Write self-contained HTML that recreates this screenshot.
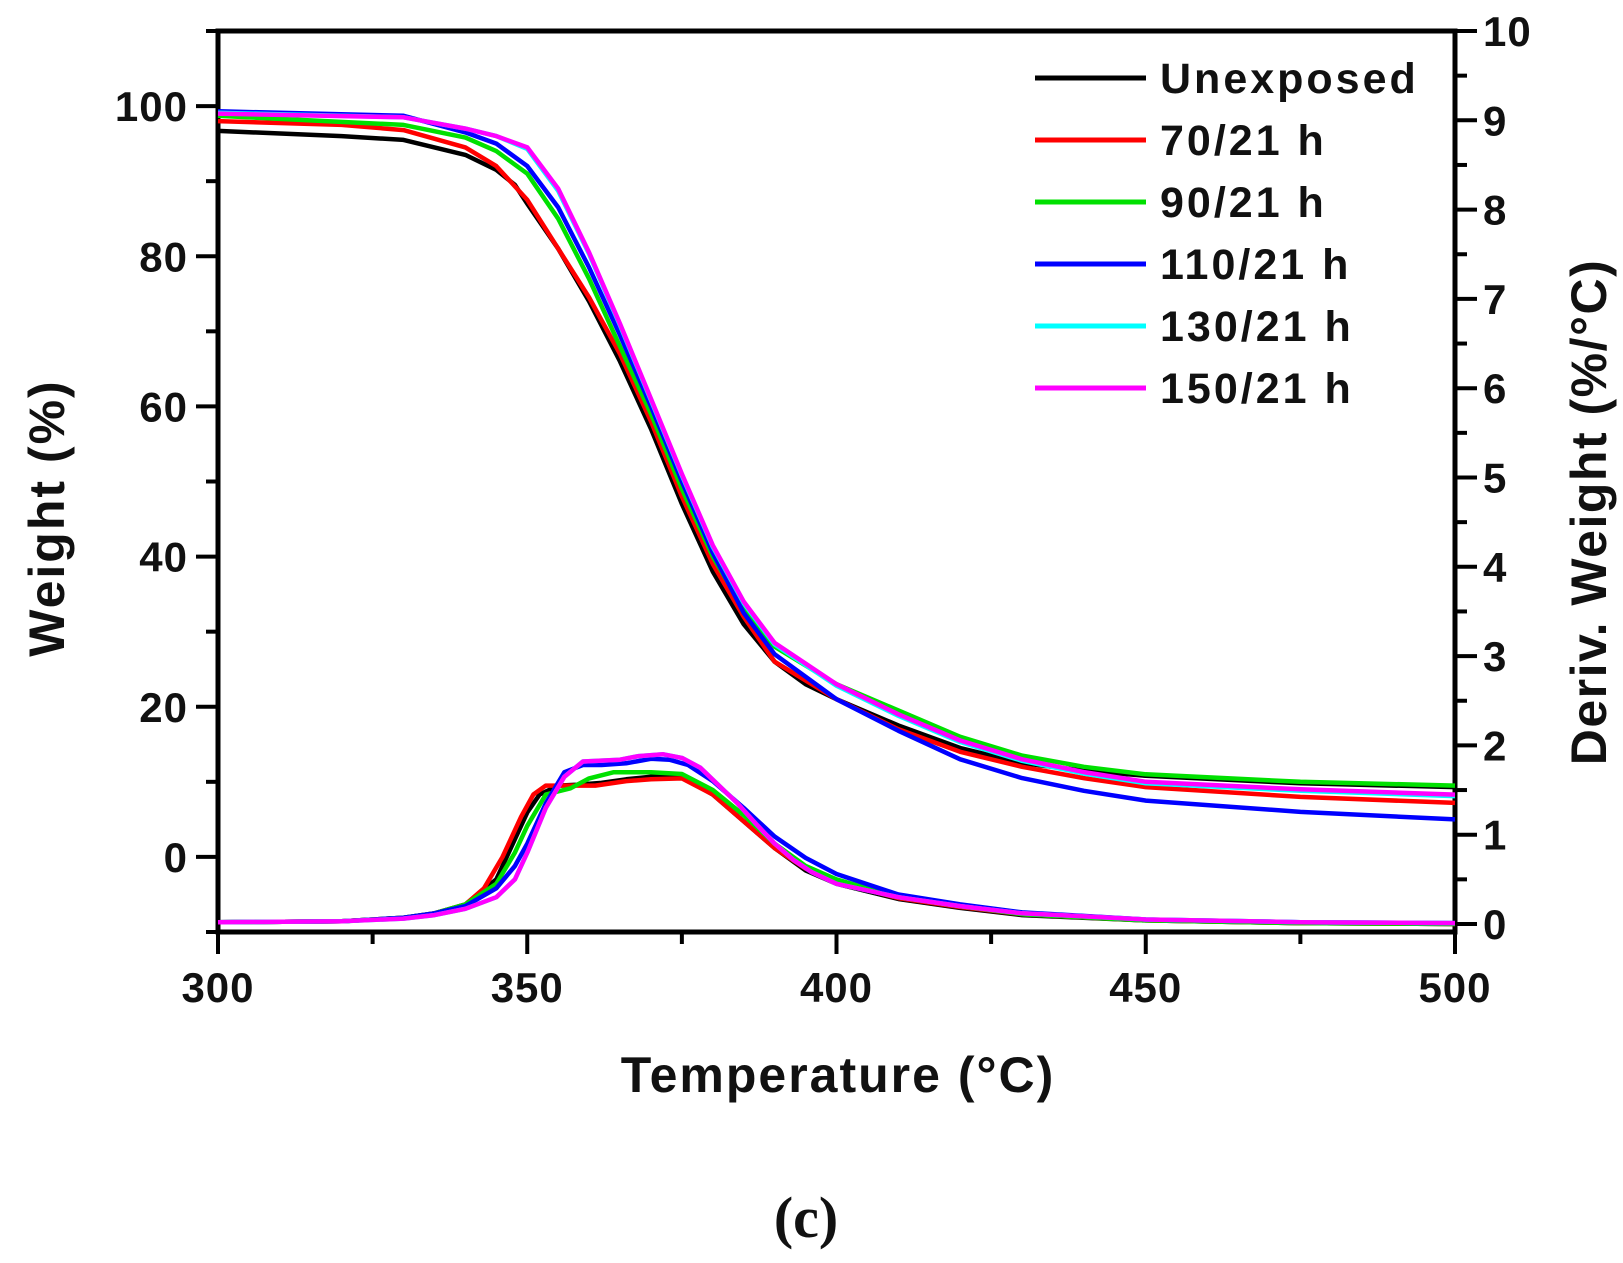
<!DOCTYPE html>
<html><head><meta charset="utf-8"><style>
body{margin:0;background:#fff;}
svg text{font-family:"Liberation Sans",Arial,sans-serif;font-weight:bold;fill:#111;}
</style></head><body>
<svg id="chart" width="1623" height="1258" viewBox="0 0 1623 1258" xmlns="http://www.w3.org/2000/svg">
<g id="axes"></g>
<g id="series"></g>
<g id="legend"></g>
<text x="64" y="518" font-size="50" letter-spacing="2" text-anchor="middle" transform="rotate(-90 64 518)">Weight (%)</text>
<text x="1606" y="512" font-size="50" letter-spacing="1.5" text-anchor="middle" transform="rotate(-90 1606 512)">Deriv. Weight (%/°C)</text>
<text x="838" y="1092" font-size="50" letter-spacing="2" text-anchor="middle">Temperature (°C)</text>
<text x="806" y="1237" font-size="58" text-anchor="middle" style="font-family:'Liberation Serif',serif">(c)</text>
</svg>
<script>
const names=["Unexposed","70/21 h","90/21 h","110/21 h","130/21 h","150/21 h"];
const colors=["#000000","#ff0000","#00e000","#0000ff","#00ffff","#ff00ff"];
const wT=[[300,320,330,340,345,348,350,355,360,365,370,375,380,385,390,395,400,410,420,430,440,450,475,500],
[300,320,330,340,345,350,355,360,365,370,375,380,385,390,400,410,420,430,440,450,475,500],
[300,330,340,345,350,355,360,365,370,375,380,385,390,400,410,420,430,440,450,475,500],
[300,330,340,345,350,355,360,365,370,375,380,385,390,400,410,420,430,440,450,475,500],
[300,330,340,345,350,355,360,365,370,375,380,385,390,400,410,420,430,440,450,475,500],
[300,330,340,345,350,355,360,365,370,375,380,385,390,400,410,420,430,440,450,475,500]];
const wV=[[96.7,96,95.5,93.5,91.5,89.5,87,81,74,66,57,47,38,31,26,23,21,17.5,14.5,12.5,11.5,10.8,9.8,9.3],
[98,97.5,96.8,94.5,92,87.5,81,74.5,67,58,48,39,32,26,21,17,14,12,10.5,9.3,8,7.2],
[98.7,97.5,95.8,94,91,85,77,68,59,49,40,33,28,23,19.5,16,13.5,12,11,10,9.5],
[99.3,98.7,96.5,95,92,86.5,78.5,69.5,60,50,40.5,32.5,27,21,16.8,13,10.5,8.8,7.5,6,5],
[99.1,98.5,97,96,94.3,88.7,80.3,70.8,60.8,50.8,41.3,33.8,28.3,22.8,18.8,15.3,12.8,11.1,9.8,8.8,8.1],
[99,98.5,97,96,94.5,89,80.5,71,61,51,41.5,34,28.5,23,19,15.5,13,11.3,10,9,8.3]];
const dT=[[300,320,330,335,340,345,348,350,352,355,358,362,366,370,375,380,385,390,395,400,410,420,430,450,475,500],
[300,320,330,335,340,343,346,349,351,353,357,361,366,370,375,380,385,390,395,400,410,420,430,450,475,500],
[300,320,330,335,340,345,348,350,353,357,360,364,370,375,380,385,390,395,400,410,420,430,450,475,500],
[300,320,330,335,340,345,348,350,353,356,359,362,366,370,373,376,380,385,390,395,400,410,420,430,450,475,500],
[300,320,330,335,340,345,348,350,353,356,359,362,365,368,372,375,378,381,384,387,390,393,396,400,410,420,430,450,475,500],
[300,320,330,335,340,345,348,350,353,356,359,362,365,368,372,375,378,381,384,387,390,393,396,400,410,420,430,450,475,500]];
const dV=[[0.02,0.03,0.07,0.12,0.22,0.5,0.95,1.25,1.45,1.55,1.56,1.58,1.62,1.65,1.65,1.45,1.15,0.85,0.6,0.45,0.28,0.18,0.1,0.04,0.01,0.0],
[0.02,0.03,0.07,0.12,0.22,0.4,0.75,1.2,1.45,1.55,1.55,1.55,1.6,1.62,1.63,1.45,1.15,0.85,0.62,0.47,0.29,0.19,0.11,0.04,0.01,0.0],
[0.02,0.03,0.07,0.12,0.22,0.45,0.8,1.1,1.45,1.52,1.63,1.7,1.7,1.68,1.5,1.22,0.9,0.65,0.5,0.3,0.2,0.11,0.04,0.01,0.0],
[0.02,0.03,0.07,0.12,0.2,0.4,0.65,0.9,1.35,1.7,1.78,1.78,1.8,1.85,1.84,1.78,1.6,1.3,0.98,0.74,0.56,0.33,0.22,0.13,0.05,0.02,0.01],
[0.02,0.03,0.06,0.1,0.17,0.3,0.5,0.8,1.3,1.65,1.82,1.83,1.84,1.88,1.9,1.86,1.75,1.55,1.35,1.12,0.9,0.72,0.58,0.45,0.3,0.2,0.12,0.05,0.02,0.01],
[0.02,0.03,0.06,0.1,0.17,0.3,0.5,0.8,1.3,1.65,1.82,1.83,1.84,1.88,1.9,1.86,1.75,1.55,1.35,1.12,0.9,0.72,0.58,0.45,0.3,0.2,0.12,0.05,0.02,0.01]];
const xTicks=[300,350,400,450,500];
const yTicks=[0,20,40,60,80,100];
const y2Ticks=[0,1,2,3,4,5,6,7,8,9,10];

const L=218,R=1455,T=31,B=932;
const X=v=>L+(v-300)/200*(R-L);
const Y=v=>B-(v+10)/120*(B-T);
const Y2=v=>924-v*89.3;
const NS="http://www.w3.org/2000/svg";
function mk(tag,attrs,parent){const e=document.createElementNS(NS,tag);for(const k in attrs)e.setAttribute(k,attrs[k]);parent.appendChild(e);return e;}
const ax=document.getElementById('axes');
let f=mk('rect',{x:L,y:T,width:R-L,height:B-T,fill:'none',stroke:'#000','stroke-width':5},ax);


for(let v=300;v<=500;v+=25){const major=xTicks.includes(v);
 let t=mk('line',{x1:X(v),x2:X(v),y1:B,y2:B+(major?22:12),stroke:'#000','stroke-width':4},ax);
 
 }
xTicks.forEach(v=>{let t=mk('text',{x:X(v),y:B+70,'font-size':42,'letter-spacing':1,'text-anchor':'middle'},ax);t.textContent=v;
 
 });
for(let v=-10;v<=110;v+=10){const major=yTicks.includes(v);
 let t=mk('line',{x1:L,x2:L-(major?22:12),y1:Y(v),y2:Y(v),stroke:'#000','stroke-width':4},ax);
 
 }
yTicks.forEach(v=>{let t=mk('text',{x:L-30,y:Y(v)+15,'font-size':42,'letter-spacing':1,'text-anchor':'end'},ax);t.textContent=v;
 
 });
for(let v=0;v<=10;v+=0.5){const major=Number.isInteger(v);
 let t=mk('line',{x1:R,x2:R+(major?22:12),y1:Y2(v),y2:Y2(v),stroke:'#000','stroke-width':4},ax);
 
 }
y2Ticks.forEach(v=>{let t=mk('text',{x:R+28,y:Y2(v)+15,'font-size':42,'letter-spacing':1,'text-anchor':'start'},ax);t.textContent=v;
 
 });
const sg=document.getElementById('series');
const order=[0,1,2,3,4,5];
order.forEach(i=>{
 let d=wT[i].map((t,j)=>(j?'L':'M')+X(t).toFixed(1)+','+Y(wV[i][j]).toFixed(1)).join('');
 let p=mk('path',{d:d,fill:'none',stroke:colors[i],'stroke-width':4.5,'stroke-linejoin':'round'},sg);
 
 
 let d2=dT[i].map((t,j)=>(j?'L':'M')+X(t).toFixed(1)+','+Y2(dV[i][j]).toFixed(1)).join('');
 let q=mk('path',{d:d2,fill:'none',stroke:colors[i],'stroke-width':4.5,'stroke-linejoin':'round'},sg);
 
 
});
const lg=document.getElementById('legend');
names.forEach((n,i)=>{const y=78+i*62;
 let l=mk('line',{x1:1035,x2:1146,y1:y,y2:y,stroke:colors[i],'stroke-width':5},lg);
 
 
 let t=mk('text',{x:1160,y:y+15,'font-size':43,'letter-spacing':3},lg);t.textContent=n;
 
 
});
</script>
</body></html>
